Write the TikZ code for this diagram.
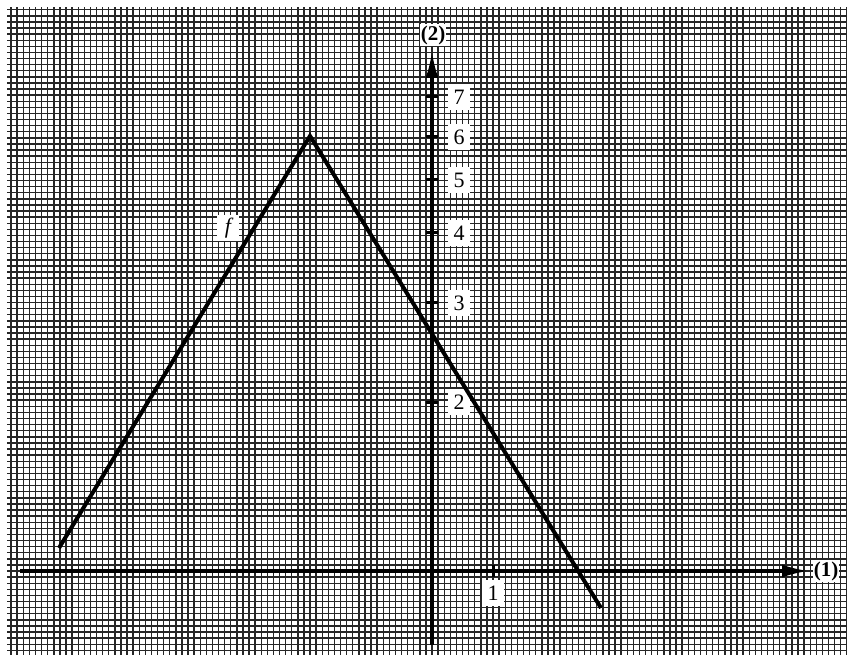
\documentclass[tikz,border=0pt]{standalone}
\usepackage{fontspec}
\setmainfont{Liberation Serif}
\usetikzlibrary{arrows.meta}

\tikzset{
	minorline/.style={line width=1.4pt, black!85},
	axisline/.style={line width=4pt, -{Latex[length=28pt, width=13pt]}},
	graphline/.style={line width=4pt, line join=miter},
	tickmark/.style={line width=3pt},
	ticklabel/.style={shape=rectangle, fill=white, inner sep=2.5pt, minimum width=22pt, minimum height=26pt, font=\fontsize{22}{26}\selectfont},
	axislabel/.style={shape=rectangle, fill=white, inner sep=1pt, font=\fontsize{21}{24}\selectfont\bfseries},
}

\begin{document}
\begin{tikzpicture}[x=1pt, y=-1pt]
	\useasboundingbox (0,0) rectangle (847,655);
	\fill[white] (0,0) rectangle (847,655);
	% graph paper
	\begin{scope}[shift={(432,571)}, y=1pt]
		\clip (-425,-84) rectangle (415,563);
		\draw[minorline] (-433,-92) grid[step=6.1] (420,570);
	\end{scope}
	% axes
	\coordinate (origin) at (432,571);
	\coordinate (xstart) at (20,571);
	\coordinate (xend) at (810,571);
	\coordinate (ystart) at (432,645);
	\coordinate (yend) at (432,50);
	\draw[axisline] (xstart) -- (xend);
	\draw[axisline] (ystart) -- (yend);
	\node[axislabel] (xname) at (826,571) {(1)};
	\node[axislabel] (yname) at (433,35) {(2)};
	% ticks
	\coordinate (xone) at (493,571);
	\draw[tickmark] ([yshift=-6]xone) -- ([yshift=6]xone);
	\node[ticklabel] (xonelabel) at (493,593) {1};
	\foreach \val/\ypos in {2/402, 3/303, 4/233, 5/180, 6/137, 7/97} {
		\coordinate (ytick\val) at (432,\ypos);
		\draw[tickmark] ([xshift=-6]ytick\val) -- ([xshift=6]ytick\val);
		\node[ticklabel] (ylabel\val) at (459,\ypos) {\val};
	}
	% the function
	\coordinate (fleft) at (59,548);
	\coordinate (fpeak) at (310,136);
	\coordinate (fright) at (601,608);
	\draw[graphline] (fleft) -- (fpeak) -- (fright);
	\node[ticklabel, font=\fontsize{22}{26}\selectfont\itshape] (fname) at (228,228) {f};
\end{tikzpicture}
\end{document}
